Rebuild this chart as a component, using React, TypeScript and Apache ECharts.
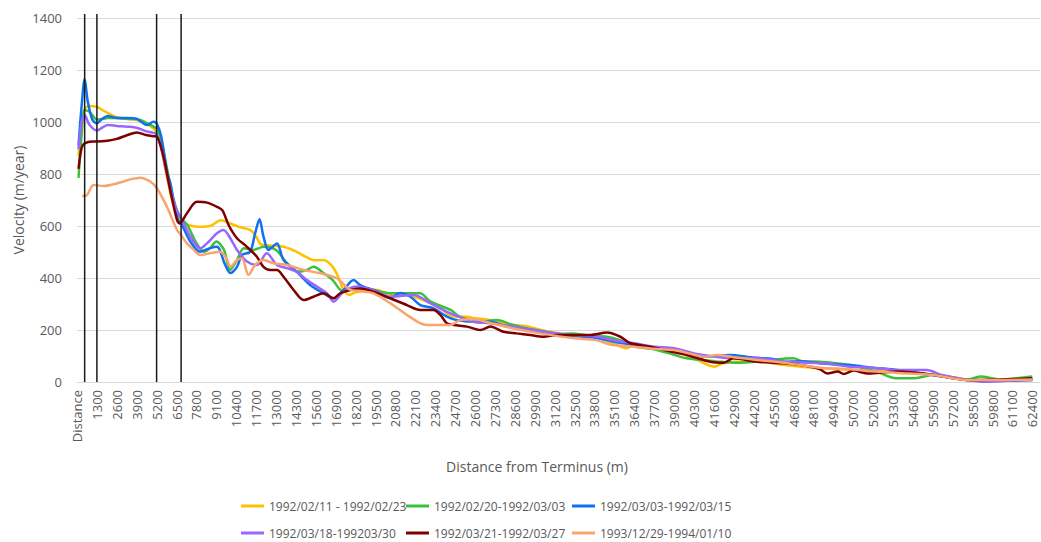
import React, { useEffect, useRef } from "react";
import * as echarts from "echarts";

// ---- Data (distance from terminus in m, velocity in m/year) ----
const seriesNames = [
  "1992/02/11 - 1992/02/23",
  "1992/02/20-1992/03/03",
  "1992/03/03-1992/03/15",
  "1992/03/18-199203/30",
  "1992/03/21-1992/03/27",
  "1993/12/29-1994/01/10",
];

const seriesColors = ["#FFC000", "#3CC03C", "#1070F0", "#9966FF", "#7E0000", "#F8A46E"];

const yellowData: [number, number][] = [
  [100, 870], [300, 1000], [500, 1050], [800, 1062], [1300, 1058], [1700, 1045], [2000, 1035],
  [2600, 1018], [3300, 1012], [3900, 1008], [4500, 995], [5000, 975], [5200, 960], [5500, 900],
  [5900, 780], [6200, 700], [6500, 650], [6800, 615], [7200, 605], [8000, 597], [8700, 600],
  [9400, 622], [10000, 610], [10500, 598], [11300, 585], [11700, 560], [12000, 530], [12600, 525],
  [13500, 520], [14300, 502], [15000, 480], [15500, 468], [16100, 469], [16700, 443], [17100, 400],
  [17400, 355], [17800, 335], [18200, 345], [19500, 355], [20800, 330], [21500, 335], [22600, 315],
  [23700, 290], [24200, 262], [24800, 251], [25500, 251], [26000, 245], [27000, 238], [28500, 219],
  [29300, 215], [30300, 200], [31200, 190], [32500, 178], [33800, 174], [35000, 149], [35900, 130],
  [36400, 142], [37700, 130], [38700, 123], [39500, 108], [40500, 85], [41600, 59], [42200, 72],
  [43000, 78], [44400, 78], [45500, 72], [46200, 65], [47300, 59], [48000, 55], [49400, 50],
  [50700, 46], [52000, 43], [53600, 40], [55000, 33], [56000, 27], [57500, 15], [58200, 10],
  [59800, 8], [61100, 8], [62400, 10],
];

const greenData: [number, number][] = [
  [100, 785], [300, 950], [500, 1045], [800, 1040], [1300, 1010], [1700, 1012], [2000, 1015],
  [2600, 1015], [3300, 1012], [3900, 1012], [4500, 998], [5000, 982], [5200, 975], [5500, 930],
  [5900, 815], [6200, 730], [6500, 665], [6800, 630], [7200, 604], [7800, 534], [8300, 501],
  [8700, 515], [9100, 540], [9600, 508], [10000, 431], [10450, 469], [10900, 514], [11500, 508],
  [12200, 520], [13000, 508], [13700, 458], [14400, 424], [15000, 431], [15450, 443], [16100, 419],
  [16700, 392], [17400, 347], [18300, 361], [19200, 356], [20500, 341], [21500, 341], [22400, 341],
  [23100, 309], [24400, 277], [25000, 251], [26300, 232], [27400, 238], [28500, 219], [29400, 206],
  [30500, 195], [31500, 185], [32300, 187], [33500, 178], [34600, 174], [35500, 160], [36500, 136],
  [37500, 128], [38700, 110], [39800, 91], [40900, 85], [42000, 78], [43100, 74], [44300, 78],
  [45400, 85], [46300, 90], [46800, 91], [47400, 80], [48500, 78], [50500, 65], [52200, 40],
  [53500, 14], [54600, 14], [55900, 27], [57000, 20], [58100, 8], [59000, 21], [60300, 10],
  [61500, 15], [62400, 21],
];

const blueData: [number, number][] = [
  [100, 910], [300, 1060], [500, 1165], [700, 1080], [1000, 1010], [1300, 995], [1600, 1010],
  [2000, 1023], [2600, 1015], [3300, 1015], [3900, 1012], [4200, 1000], [4560, 988], [5000, 1001],
  [5200, 995], [5500, 945], [5900, 800], [6100, 765], [6300, 700], [6600, 623], [6800, 611],
  [7400, 540], [8050, 501], [8700, 515], [9140, 520], [9680, 450], [10010, 419], [10450, 443],
  [10770, 488], [11310, 501], [11640, 573], [11920, 626], [12180, 559], [12510, 508], [13060, 533],
  [13490, 469], [14360, 424], [15230, 373], [16100, 341], [16760, 322], [17410, 354], [18070, 392],
  [18500, 373], [19500, 350], [20460, 323], [21110, 342], [21770, 328], [22420, 296], [23290, 283],
  [24160, 251], [24820, 238], [25900, 232], [27000, 232], [28080, 213], [29170, 206], [30260, 193],
  [31350, 181], [32440, 177], [33800, 170], [35100, 155], [36400, 142], [37700, 130], [39000, 123],
  [40300, 105], [41000, 97], [42670, 104], [44000, 95], [45500, 88], [46200, 78], [47300, 80],
  [48500, 72], [50500, 65], [52000, 55], [53600, 46], [55900, 27], [58100, 8], [60300, 5],
  [62400, 8],
];

const purpleData: [number, number][] = [
  [100, 895], [300, 1000], [500, 1027], [800, 990], [1300, 967], [1700, 980], [2000, 988],
  [2600, 985], [3300, 982], [3900, 978], [4500, 965], [5000, 958], [5200, 952], [5500, 900],
  [5900, 790], [6200, 720], [6500, 662], [6800, 630], [7400, 559], [8050, 514], [8490, 533],
  [9140, 572], [9570, 585], [10010, 553], [10450, 508], [11100, 463], [11750, 450], [12400, 495],
  [13060, 450], [13710, 438], [14360, 424], [15020, 392], [15670, 367], [16330, 341], [16760, 309],
  [17410, 347], [18290, 367], [19500, 350], [20460, 328], [21990, 335], [23070, 303], [24160, 270],
  [25900, 232], [27000, 226], [28520, 213], [29800, 200], [31200, 188], [32500, 180], [33800, 176],
  [35100, 160], [36400, 149], [37700, 136], [39000, 130], [40300, 110], [41600, 98], [42900, 91],
  [44400, 91], [45500, 85], [46200, 78], [47300, 75], [48800, 72], [50300, 60], [52000, 55],
  [53600, 46], [55500, 46], [56500, 27], [58000, 10], [59300, 1], [60800, 5], [62400, 8],
];

const darkRedData: [number, number][] = [
  [100, 820], [300, 900], [500, 918], [1000, 925], [1300, 925], [2000, 928], [2600, 935],
  [3300, 950], [3900, 960], [4500, 950], [5000, 945], [5200, 944], [5650, 867], [6090, 738],
  [6530, 623], [6700, 610], [7180, 649], [7830, 693], [8490, 690], [9140, 674], [9500, 660],
  [9900, 604], [10450, 553], [11100, 520], [11750, 482], [12180, 443], [12620, 431], [13060, 431],
  [13490, 405], [14150, 354], [14800, 315], [15450, 328], [16100, 341], [16760, 322], [17190, 341],
  [17850, 354], [18500, 360], [19370, 347], [20460, 322], [21550, 296], [22420, 277], [23290, 277],
  [23730, 258], [24160, 226], [24600, 219], [25470, 213], [26340, 200], [27000, 213], [27860, 193],
  [28730, 187], [29600, 181], [30470, 174], [31350, 181], [32440, 181], [33540, 181], [34620, 190],
  [35490, 174], [36140, 149], [37450, 136], [38750, 117], [39840, 104], [41370, 78], [42240, 74],
  [42880, 91], [44410, 78], [46150, 72], [47240, 65], [48500, 50], [49000, 33], [49700, 40],
  [50070, 31], [50720, 44], [51600, 33], [52470, 36], [53560, 40], [55950, 27], [58130, 8],
  [60310, 10], [62400, 14],
];

const salmonData: [number, number][] = [
  [340, 715], [650, 719], [1080, 758], [1730, 754], [2820, 767], [3500, 780], [4130, 786],
  [4780, 771], [5220, 745], [5870, 674], [6530, 585], [6800, 565], [7180, 533], [7600, 510],
  [8050, 488], [8700, 495], [9360, 501], [9800, 470], [10010, 443], [10450, 469], [10770, 476],
  [11200, 412], [11640, 450], [12180, 469], [12840, 457], [13710, 450], [14800, 431], [15890, 418],
  [16980, 399], [17850, 354], [18500, 350], [19370, 341], [20460, 303], [21550, 258], [22420, 226],
  [22860, 219], [24380, 219], [25030, 238], [25900, 241], [27000, 227], [28520, 206], [30260, 187],
  [32440, 168], [33800, 162], [35000, 142], [36400, 136], [37700, 128], [39000, 123], [40300, 105],
  [41000, 97], [41800, 104], [42900, 95], [44400, 85], [46200, 74], [47240, 65], [48550, 55],
  [50500, 49], [52200, 40], [53600, 35], [55950, 27], [58130, 8], [60310, 8], [62400, 10],
];

const allData = [yellowData, greenData, blueData, purpleData, darkRedData, salmonData];

// Black reference lines (distance, m) and their vertical extent (m/year)
const referenceDistances = [500, 1300, 5200, 6800];
const referenceBottom = 0;
const referenceTop = 1415;

// Axis settings
const xMin = 0;
const xMax = 62900;
const xInterval = 1300;
const yMin = 0;
const yMax = 1400;
const yInterval = 200;
const xTitle = "Distance from Terminus (m)";
const yTitle = "Velocity (m/year)";
const firstTickLabel = "Distance";

// Legend layout (3 columns x 2 rows)
const legendCols = [241, 406, 572];
const legendRows = [499, 526];

const FONT = "'Open Sans', sans-serif";
const TEXT_COLOR = "#595959";
const GRID_COLOR = "#D9D9D9";

export default function App() {
  const ref = useRef<HTMLDivElement>(null);

  useEffect(() => {
    if (!ref.current) return;
    const chart = echarts.init(ref.current, undefined, { renderer: "svg" });

    const series: any[] = allData.map((d, i) => ({
      name: seriesNames[i],
      type: "line",
      data: d,
      showSymbol: false,
      symbol: "none",
      smooth: 0.3,
      lineStyle: { color: seriesColors[i], width: 2.5 },
      itemStyle: { color: seriesColors[i] },
      z: 2 + i,
    }));

    referenceDistances.forEach((d, i) => {
      series.push({
        name: "ref" + i,
        type: "line",
        data: [
          [d, referenceBottom],
          [d, referenceTop],
        ],
        showSymbol: false,
        symbol: "none",
        clip: false,
        silent: true,
        lineStyle: { color: "#1a1a1a", width: 1.5 },
        z: 20,
      });
    });

    const legends = seriesNames.map((name, i) => ({
      data: [{ name, icon: "rect" }],
      left: legendCols[i % 3],
      top: legendRows[Math.floor(i / 3)],
      padding: 0,
      itemWidth: 23,
      itemHeight: 3,
      itemStyle: { color: seriesColors[i] },
      textStyle: { fontSize: 12, lineHeight: 14, color: TEXT_COLOR, fontFamily: FONT },
      selectedMode: false,
    }));

    chart.setOption({
      animation: false,
      backgroundColor: "#ffffff",
      textStyle: { fontFamily: FONT },
      grid: { left: 77, right: 1, top: 18, height: 364, containLabel: false },
      legend: legends,
      xAxis: {
        type: "value",
        min: xMin,
        max: xMax,
        interval: xInterval,
        axisLine: { show: true, lineStyle: { color: GRID_COLOR, width: 1 } },
        axisTick: { show: false },
        splitLine: { show: false },
        axisLabel: {
          rotate: 90,
          margin: 8,
          fontSize: 13,
          color: TEXT_COLOR,
          fontFamily: FONT,
          showMaxLabel: false,
          formatter: (v: number) => (v === 0 ? firstTickLabel : String(v)),
        },
      },
      yAxis: {
        type: "value",
        min: yMin,
        max: yMax,
        interval: yInterval,
        axisLine: { show: false },
        axisTick: { show: false },
        splitLine: { show: true, lineStyle: { color: GRID_COLOR, width: 1 } },
        axisLabel: {
          margin: 15,
          fontSize: 13,
          color: TEXT_COLOR,
          fontFamily: FONT,
          formatter: (v: number) => String(v),
        },
      },
      graphic: [
        {
          type: "text",
          x: 537,
          y: 466,
          style: {
            text: xTitle,
            fontSize: 14,
            fontFamily: FONT,
            fill: TEXT_COLOR,
            textAlign: "center",
            textVerticalAlign: "middle",
          },
        },
        {
          type: "text",
          x: 18,
          y: 200,
          rotation: Math.PI / 2,
          style: {
            text: yTitle,
            fontSize: 14,
            fontFamily: FONT,
            fill: TEXT_COLOR,
            textAlign: "center",
            textVerticalAlign: "middle",
          },
        },
      ],
      series,
    });

    return () => chart.dispose();
  }, []);

  return (
    <div
      ref={ref}
      style={{ position: "fixed", left: 0, top: 0, width: 1041, height: 542, background: "#fff" }}
    />
  );
}
